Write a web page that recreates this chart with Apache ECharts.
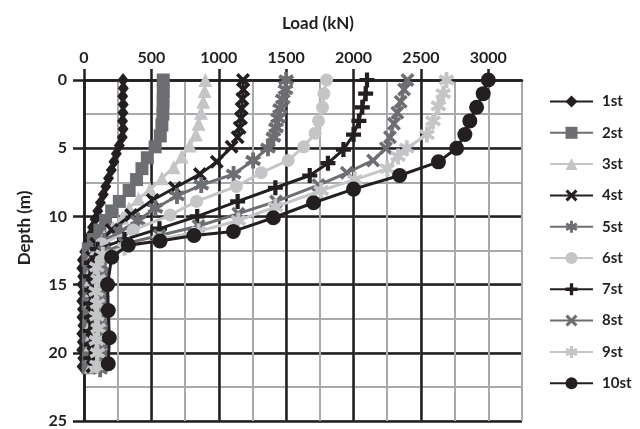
<!DOCTYPE html>
<html>
<head>
<meta charset="utf-8">
<script src="https://cdn.jsdelivr.net/npm/echarts@6/dist/echarts.min.js"></script>
<style>
  html, body { margin: 0; padding: 0; background: #ffffff; }
  #chart { width: 640px; height: 429px; }
</style>
</head>
<body>
<div id="chart"></div>
<script>
// Axial load distribution along the pile for ten loading stages
const seriesNames = ['1st', '2st', '3st', '4st', '5st', '6st', '7st', '8st', '9st', '10st'];

const xTickValues = [0, 500, 1000, 1500, 2000, 2500, 3000];
const yTickValues = [0, 5, 10, 15, 20, 25];

// depth (m) and load (kN) for each stage
const depth1 = [0, 0.6, 1.2, 1.8, 2.4, 3.0, 3.6, 4.2, 4.8, 5.4, 6.0, 6.6, 7.2, 7.8, 8.4, 9.0, 9.6, 10.2, 10.8, 11.4, 12.0, 12.6, 13.2, 13.8, 14.4, 15.0, 15.6, 16.2, 16.8, 17.4, 18.0, 18.6, 19.2, 19.8, 20.4, 21.0];
const load1 = [290, 292, 287, 291, 289, 286, 290, 284, 262, 240, 222, 203, 182, 162, 143, 122, 102, 82, 63, 44, 24, 5, -12, -16, -10, -15, -9, -16, -11, -15, -8, -16, -12, -17, -9, -14];

const depth2 = [0, 0.8, 1.6, 2.5, 3.3, 4.1, 4.9, 5.7, 6.5, 7.3, 8.1, 8.9, 9.6, 10.3, 11.0, 11.7, 12.4, 13.2, 14.0, 14.8, 15.6, 16.4, 17.2, 18.0, 18.8, 19.6, 20.4, 21.1];
const load2 = [588, 588, 587, 585, 578, 566, 528, 470, 430, 390, 335, 262, 205, 160, 118, 70, 32, 30, 38, 33, 36, 31, 37, 34, 32, 37, 34, 31];

const depth3 = [0, 0.8, 1.6, 2.4, 3.2, 4.0, 4.8, 5.6, 6.4, 7.2, 8.0, 8.7, 9.4, 10.1, 10.8, 11.5, 12.2, 13.0, 13.8, 14.6, 15.4, 16.2, 17.0, 17.8, 18.6, 19.4, 20.2, 21.0];
const load3 = [900, 895, 885, 868, 850, 830, 785, 725, 665, 578, 490, 405, 335, 285, 215, 150, 80, 55, 60, 50, 58, 52, 60, 54, 58, 50, 56, 52];

const depth4 = [0, 0.7, 1.4, 2.1, 2.8, 3.5, 4.2, 4.9, 6.0, 6.9, 7.9, 8.8, 9.9, 11.0, 12.0, 13.0, 14.0, 15.0, 16.0, 17.0, 18.0, 19.0, 20.0, 21.0];
const load4 = [1180, 1182, 1175, 1170, 1165, 1155, 1140, 1095, 985, 860, 675, 510, 350, 205, 90, 60, 70, 62, 68, 60, 66, 62, 68, 63];

const depth5 = [0, 0.7, 1.4, 2.1, 2.8, 3.5, 4.2, 5.0, 5.9, 6.9, 7.7, 8.5, 9.4, 10.3, 11.1, 11.8, 12.5, 13.3, 14.1, 14.9, 15.7, 16.5, 17.3, 18.1, 18.9, 19.7, 20.5, 21.2];
const load5 = [1500, 1495, 1475, 1455, 1440, 1425, 1405, 1365, 1255, 1110, 870, 690, 530, 400, 270, 150, 100, 115, 125, 110, 120, 128, 112, 122, 118, 126, 115, 120];

const depth6 = [0, 1.0, 2.0, 3.0, 3.9, 4.9, 5.9, 6.8, 7.8, 8.9, 9.9, 11.0, 12.0, 13.0, 14.0, 15.0, 16.0, 17.0, 18.0, 19.0, 20.0, 21.0];
const load6 = [1800, 1780, 1770, 1740, 1715, 1630, 1515, 1315, 1130, 835, 640, 365, 130, 85, 95, 80, 90, 84, 92, 82, 88, 86];

const depth7 = [0, 1.0, 2.0, 3.0, 4.0, 5.1, 6.1, 7.0, 7.9, 8.9, 10.0, 10.9, 11.7, 12.4, 13.4, 14.4, 15.4, 16.4, 17.4, 18.4, 19.4, 20.4];
const load7 = [2100, 2090, 2065, 2040, 2000, 1925, 1810, 1675, 1420, 1140, 840, 560, 300, 100, 55, 48, 58, 50, 56, 47, 55, 50];

const depth8 = [0, 0.7, 1.6, 2.4, 3.2, 4.2, 5.0, 5.9, 6.8, 7.7, 8.9, 9.8, 10.7, 11.4, 12.0, 12.6, 13.5, 14.4, 15.3, 16.2, 17.1, 18.0, 18.9, 19.8, 20.7];
const load8 = [2400, 2375, 2350, 2325, 2300, 2270, 2240, 2145, 1950, 1740, 1425, 1145, 850, 560, 300, 150, 135, 145, 130, 140, 135, 145, 132, 140, 136];

const depth9 = [0, 1.0, 1.9, 3.0, 4.0, 5.0, 5.6, 6.5, 7.3, 8.1, 9.3, 10.3, 11.1, 11.7, 12.3, 12.8, 13.7, 14.6, 15.5, 16.4, 17.3, 18.2, 19.1, 20.0, 20.9];
const load9 = [2690, 2665, 2630, 2590, 2545, 2395, 2330, 2250, 2010, 1760, 1420, 1145, 850, 560, 300, 140, 95, 105, 90, 100, 95, 105, 92, 100, 96];

const depth10 = [0, 1, 2, 3, 4, 5, 6, 7, 8, 9, 10.1, 11.1, 11.4, 11.8, 12.1, 13.0, 15.0, 16.9, 18.9, 20.8];
const load10 = [3000, 2962, 2913, 2863, 2826, 2765, 2630, 2342, 2000, 1703, 1405, 1108, 816, 564, 329, 205, 175, 180, 188, 180];

const depths = [depth1, depth2, depth3, depth4, depth5, depth6, depth7, depth8, depth9, depth10];
const loads = [load1, load2, load3, load4, load5, load6, load7, load8, load9, load10];

// palette
const BLACK = '#231f20';
const DARK = '#6d6e71';
const LIGHT = '#c4c5c7';
const GRID_GRAY = '#a7a9ac';
const FONT = 'Lato, "Open Sans", sans-serif';

// filled marker outlines
const X_PATH = 'path://M0,1.8L1.8,0L5,3.2L8.2,0L10,1.8L6.8,5L10,8.2L8.2,10L5,6.8L1.8,10L0,8.2L3.2,5Z';
const PLUS_PATH = 'path://M3.6,0H6.4V3.6H10V6.4H6.4V10H3.6V6.4H0V3.6H3.6Z';
function asteriskPath() {
  const parts = [];
  const half = 5, w = 1.2;
  [0, 60, 120].forEach(function (deg) {
    const a = deg * Math.PI / 180;
    const ux = Math.sin(a), uy = -Math.cos(a);   // along the arm
    const px = -uy, py = ux;                      // across the arm
    const pts = [
      [5 + ux * half + px * w, 5 + uy * half + py * w],
      [5 - ux * half + px * w, 5 - uy * half + py * w],
      [5 - ux * half - px * w, 5 - uy * half - py * w],
      [5 + ux * half - px * w, 5 + uy * half - py * w]
    ];
    parts.push('M' + pts.map(function (p) { return p[0].toFixed(2) + ',' + p[1].toFixed(2); }).join('L') + 'Z');
  });
  return 'path://' + parts.join('');
}
const STAR_PATH = asteriskPath();

const styles = [
  { color: BLACK, symbol: 'diamond', size: [11, 14] },
  { color: DARK, symbol: 'rect', size: 13 },
  { color: LIGHT, symbol: 'triangle', size: 14 },
  { color: BLACK, symbol: X_PATH, size: 14 },
  { color: DARK, symbol: STAR_PATH, size: 16 },
  { color: LIGHT, symbol: 'circle', size: 13 },
  { color: BLACK, symbol: PLUS_PATH, size: 15 },
  { color: DARK, symbol: X_PATH, size: 14 },
  { color: LIGHT, symbol: STAR_PATH, size: 16 },
  { color: BLACK, symbol: 'circle', size: 15 }
];

const series = seriesNames.map(function (name, i) {
  const st = styles[i];
  return {
    name: name,
    type: 'line',
    xAxisIndex: 1,
    yAxisIndex: 1,
    clip: false,
    data: loads[i].map(function (v, k) { return [v, depths[i][k]]; }),
    symbol: st.symbol,
    symbolSize: st.size,
    showAllSymbol: true,
    lineStyle: { color: st.color, width: 3 },
    itemStyle: { color: st.color },
    emphasis: { disabled: true },
    z: 3 + i
  };
});

const labelStyle = { color: BLACK, fontFamily: FONT, fontWeight: 'bold', fontSize: 16 };
const plain = function (v) { return String(v); };

const chart = echarts.init(document.getElementById('chart'), null, { renderer: 'canvas' });
chart.setOption({
  animation: false,
  backgroundColor: '#ffffff',
  grid: { left: 84, top: 80, width: 438, height: 347, containLabel: false },
  xAxis: [
    {
      type: 'value', position: 'top', min: 0, max: 3250, interval: 250,
      axisLine: { show: false }, axisTick: { show: false }, axisLabel: { show: false },
      splitLine: { show: true, lineStyle: { color: GRID_GRAY, width: 2 } }
    },
    {
      type: 'value', position: 'top', min: 0, max: 3250, interval: 500,
      axisLine: { show: true, onZero: false, lineStyle: { color: BLACK, width: 2.5 } },
      axisTick: { show: true, inside: false, length: 11, lineStyle: { color: BLACK, width: 2.5 }, customValues: xTickValues },
      axisLabel: Object.assign({ margin: 14, customValues: xTickValues, formatter: plain }, labelStyle),
      splitLine: { show: true, showMaxLine: false, lineStyle: { color: BLACK, width: 2.5 } }
    }
  ],
  yAxis: [
    {
      type: 'value', position: 'left', inverse: true, min: 0, max: 25, interval: 2.5,
      axisLine: { show: false }, axisTick: { show: false }, axisLabel: { show: false },
      splitLine: { show: true, lineStyle: { color: GRID_GRAY, width: 2 } }
    },
    {
      type: 'value', position: 'left', inverse: true, min: 0, max: 25, interval: 5,
      axisLine: { show: true, onZero: false, lineStyle: { color: BLACK, width: 2.5 } },
      axisTick: { show: true, inside: false, length: 11, lineStyle: { color: BLACK, width: 2.5 }, customValues: yTickValues },
      axisLabel: Object.assign({ margin: 17, customValues: yTickValues, formatter: plain }, labelStyle),
      splitLine: { show: true, lineStyle: { color: BLACK, width: 2.5 } }
    }
  ],
  legend: {
    orient: 'vertical',
    left: 549,
    top: 94,
    padding: 0,
    itemWidth: 43,
    itemHeight: 15,
    itemGap: 16.3,
    data: seriesNames,
    textStyle: { color: BLACK, fontFamily: FONT, fontWeight: 'bold', fontSize: 15, padding: [0, 0, 0, 4] }
  },
  graphic: [
    {
      type: 'text', x: 318, y: 24,
      style: { text: 'Load (kN)', fill: BLACK, font: 'bold 17px ' + FONT, textAlign: 'center', textVerticalAlign: 'middle' }
    },
    {
      type: 'text', x: 25, y: 228, rotation: Math.PI / 2,
      style: { text: 'Depth (m)', fill: BLACK, font: 'bold 17px ' + FONT, textAlign: 'center', textVerticalAlign: 'middle' }
    }
  ],
  series: series
});
</script>
</body>
</html>
